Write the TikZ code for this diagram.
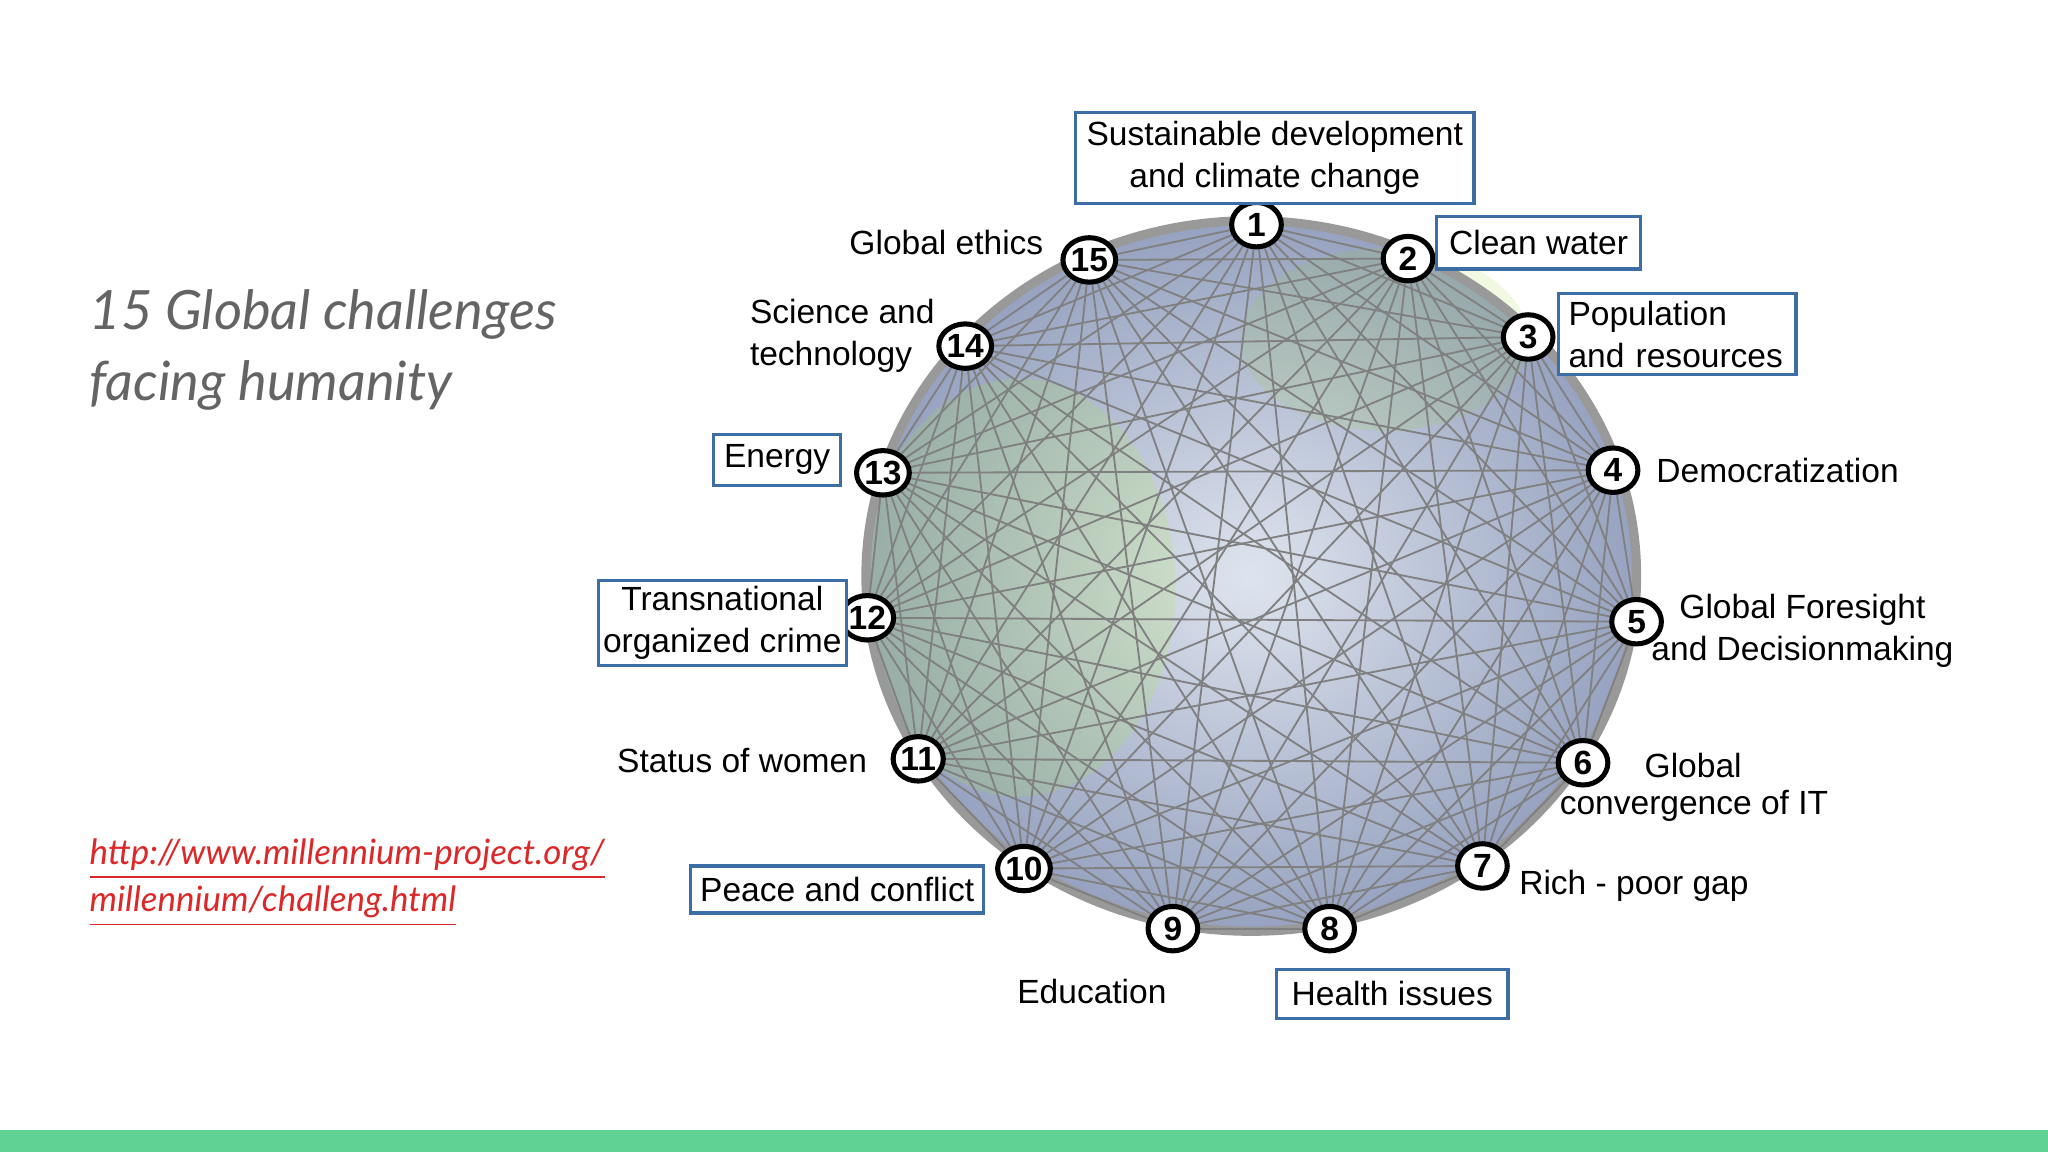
\documentclass[tikz,border=0pt]{standalone}
\usepackage{fontspec}
\setmainfont{Liberation Sans}
\newfontfamily\titlefont{Lato}
\usetikzlibrary{shapes.geometric}
\definecolor{boxblue}{RGB}{60,110,165}
\definecolor{barg}{RGB}{96,211,148}
\definecolor{urlred}{RGB}{220,40,40}
\definecolor{titlegray}{RGB}{100,100,100}
\definecolor{globeA}{RGB}{222,228,238}
\definecolor{globeB}{RGB}{150,162,192}
\begin{document}
\begin{tikzpicture}[x=0.01cm,y=-0.01cm,
  num/.style={ellipse,draw,line width=1.1pt,fill=white,inner sep=0pt,minimum width=0.38cm,minimum height=0.34cm,font=\bfseries\fontsize{7.3}{7.3}\selectfont},
  lbl/.style={font=\fontsize{7.3}{9.2}\selectfont,align=center,inner sep=1pt},
  lbox/.style={lbl,draw=boxblue,line width=0.7pt,fill=white,inner sep=1pt},
  chord/.style={draw=black!50,line width=0.4pt}]
\useasboundingbox (0,0) rectangle (1568,882);
\fill[white] (0,0) rectangle (1568,882);
\fill[barg] (0,865) rectangle (1568,882);
% globe
\shade[inner color=globeA,outer color=globeB] (958,441) ellipse [x radius=295,y radius=272];
\fill[green!35!yellow,opacity=0.13] (780,450) ellipse [x radius=120,y radius=160];
\fill[yellow!60!green,opacity=0.13] (1060,260) ellipse [x radius=110,y radius=70];
\draw[black!40,line width=2pt] (958,441) ellipse [x radius=295,y radius=272];
% coordinates
\foreach \i/\x/\y in {1/962/172,2/1078/198,3/1170/258,4/1235/360,5/1253/476,6/1212/584,7/1135/663,8/1018/711,9/898/711,10/784/665,11/703/581,12/664/473,13/676/362,14/739/265,15/834/199}
  \coordinate (p\i) at (\x,\y);
\foreach \i in {1,...,15}{
  \foreach \j in {\i,...,15}{
    \ifnum\i<\j \draw[chord] (p\i) -- (p\j); \fi
  }
}
\foreach \i in {1,...,15} \node[num] (n\i) at (p\i) {\i};
% labels
\node[lbox,minimum width=3.05cm,minimum height=0.70cm] (l1) at (976,121) {Sustainable development\\and climate change};
\node[lbox,minimum width=1.56cm,minimum height=0.40cm] (l2) at (1178,186) {Clean water};
\node[lbox,align=left,minimum width=1.82cm,minimum height=0.62cm,text width=1.66cm] (l3) at (1284,256) {Population\\and resources};
\node[lbl,anchor=west] (l4) at (1264,360) {Democratization};
\node[lbl] (l5) at (1380,483) {Global Foresight\\and Decisionmaking};
\node[lbl,anchor=west] (l6a) at (1255,586) {Global};
\node[lbl,anchor=west] (l6b) at (1190,617) {convergence of IT};
\node[lbl,anchor=west] (l7) at (1159,678) {Rich - poor gap};
\node[lbox,minimum width=1.77cm,minimum height=0.37cm] (l8) at (1066,761) {Health issues};
\node[lbl] (l9) at (836,759) {Education};
\node[lbox,minimum width=2.24cm,minimum height=0.36cm] (l10) at (641,681) {Peace and conflict};
\node[lbl,anchor=east] (l11) at (668,582) {Status of women};
\node[lbox,minimum width=1.90cm,minimum height=0.65cm] (l12) at (553,477) {Transnational\\organized crime};
\node[lbox,minimum width=0.97cm,minimum height=0.39cm] (l13) at (595,352) {Energy};
\node[lbl,anchor=west,align=left] (l14) at (570,257) {Science and\\technology};
\node[lbl,anchor=east] (l15) at (803,186) {Global ethics};
% left texts
\node[anchor=west,align=left,inner sep=0pt,text=titlegray,font=\titlefont\itshape\fontsize{11.8}{15.4}\selectfont] (title) at (68,268) {15 Global challenges\\facing humanity};
\node[anchor=west,align=left,inner sep=0pt,text=urlred,font=\titlefont\itshape\fontsize{7.6}{10.3}\selectfont] (url) at (68,676) {\underline{http://www.millennium-project.org/}\\\underline{millennium/challeng.html}};
\end{tikzpicture}
\end{document}
